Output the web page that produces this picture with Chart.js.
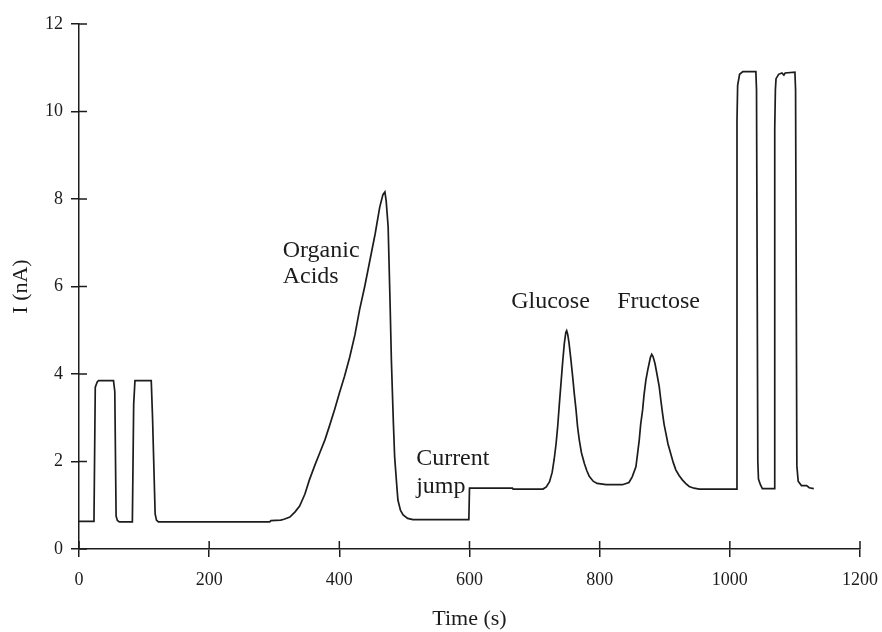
<!DOCTYPE html>
<html>
<head>
<meta charset="utf-8">
<script src="https://cdn.jsdelivr.net/npm/chart.js@4"></script>
<style>
  html, body { margin: 0; padding: 0; background: #fff; }
  #grafico { display: block; }
</style>
</head>
<body>
<canvas id="grafico" width="882" height="632"></canvas>
<script>
// tiempo (s) y corriente (nA)
const tiempo = [
  0, 23, 25, 28, 30, 53, 55, 57, 59, 62,
  82, 84, 86, 111, 113, 117, 119, 122, 293, 295,
  310, 315, 324, 332, 339, 347, 354, 362, 370, 378,
  385, 393, 400, 408, 416, 424, 431, 439, 447, 455,
  462, 467, 470, 472, 475, 478, 480, 483, 485, 488,
  490, 494, 498, 505, 513, 599, 600, 666, 667, 713,
  718, 723, 727, 730, 733, 735.5, 738, 740.6, 743, 745.7,
  748, 749.3, 751, 753, 756, 758.5, 761, 763.7, 766, 768.7,
  772, 776.4, 780, 784, 790, 796, 810, 835, 845, 850,
  855.7, 858, 860.8, 863, 866, 868, 871, 874, 876, 878,
  880, 882, 885, 888, 891.5, 894, 896.6, 899, 901.7, 905,
  909, 913, 917, 922, 927, 932, 937.5, 945, 953, 1009,
  1010, 1011, 1012, 1015, 1020, 1040, 1041, 1043, 1044, 1047,
  1050, 1068, 1069, 1070, 1071, 1075, 1080, 1083, 1085, 1100,
  1101, 1103, 1105, 1110, 1118, 1122, 1129
];
const corriente = [
  0.63, 0.63, 3.7, 3.82, 3.85, 3.85, 3.6, 0.75, 0.65, 0.62,
  0.62, 3.3, 3.85, 3.85, 3.0, 0.8, 0.66, 0.62, 0.62, 0.65,
  0.66, 0.68, 0.73, 0.85, 0.98, 1.25, 1.58, 1.9, 2.2, 2.5,
  2.82, 3.2, 3.56, 3.95, 4.39, 4.9, 5.46, 6.0, 6.6, 7.2,
  7.81, 8.1, 8.16, 7.95, 7.36, 5.6, 4.3, 2.9, 2.1, 1.5,
  1.12, 0.88, 0.78, 0.7, 0.67, 0.67, 1.39, 1.39, 1.37, 1.37,
  1.42, 1.54, 1.75, 2.04, 2.4, 2.8, 3.3, 3.79, 4.25, 4.7,
  4.95, 4.99, 4.9, 4.7, 4.3, 3.94, 3.55, 3.18, 2.8, 2.49,
  2.2, 1.96, 1.8, 1.66, 1.55, 1.5, 1.47, 1.47, 1.52, 1.65,
  1.88, 2.15, 2.49, 2.85, 3.18, 3.5, 3.86, 4.1, 4.24, 4.38,
  4.45, 4.4, 4.24, 4.0, 3.71, 3.4, 3.1, 2.85, 2.65, 2.4,
  2.19, 1.98, 1.81, 1.68, 1.58, 1.5, 1.43, 1.39, 1.37, 1.37,
  1.37, 9.8, 10.6, 10.85, 10.91, 10.91, 10.5, 2.0, 1.6, 1.47,
  1.38, 1.38, 9.6, 10.5, 10.75, 10.85, 10.88, 10.83, 10.88, 10.9,
  10.5, 1.9, 1.55, 1.45, 1.45, 1.4, 1.38
];

const ticksTiempo = [0, 200, 400, 600, 800, 1000, 1200];
const ticksCorriente = [0, 2, 4, 6, 8, 10, 12];

// anotaciones del grafico
const notas = ['Organic', 'Acids', 'Current', 'jump', 'Glucose', 'Fructose'];
const notaTiempo = [313, 313, 518, 518, 664, 827];
const notaCorriente = [6.67, 6.07, 1.92, 1.28, 5.52, 5.52];

const fuente = "'Liberation Serif', 'DejaVu Serif', serif";
const tinta = '#1c1c1c';

const puntos = tiempo.map((t, i) => ({ x: t, y: corriente[i] }));

// marcas que cruzan el eje hacia adentro y textos
const marcasYTextos = {
  id: 'marcasYTextos',
  afterDatasetsDraw(chart) {
    const ctx = chart.ctx;
    const x = chart.scales.x;
    const y = chart.scales.y;
    ctx.save();
    ctx.strokeStyle = tinta;
    ctx.lineWidth = 1.5;
    ctx.beginPath();
    ticksTiempo.forEach(v => {
      const px = x.getPixelForValue(v);
      ctx.moveTo(px, y.bottom);
      ctx.lineTo(px, y.bottom - 8);
    });
    ticksCorriente.forEach(v => {
      const py = y.getPixelForValue(v);
      ctx.moveTo(x.left, py);
      ctx.lineTo(x.left + 8, py);
    });
    ctx.stroke();

    ctx.fillStyle = tinta;
    ctx.font = '24px ' + fuente;
    ctx.textAlign = 'left';
    ctx.textBaseline = 'alphabetic';
    notas.forEach((txt, i) => {
      ctx.fillText(txt, x.getPixelForValue(notaTiempo[i]), y.getPixelForValue(notaCorriente[i]));
    });
    ctx.restore();
  }
};

new Chart(document.getElementById('grafico'), {
  type: 'line',
  data: {
    datasets: [{
      data: puntos,
      borderColor: tinta,
      borderWidth: 1.7,
      pointRadius: 0,
      tension: 0,
      fill: false
    }]
  },
  options: {
    responsive: false,
    animation: false,
    devicePixelRatio: 1,
    layout: { padding: { top: 24, right: 22, left: 0, bottom: 0 } },
    plugins: {
      legend: { display: false },
      tooltip: { enabled: false }
    },
    scales: {
      x: {
        type: 'linear',
        min: 0,
        max: 1200,
        afterFit: s => { s.height = 83; s.paddingLeft = 0; s.paddingRight = 0; },
        afterBuildTicks: s => { s.ticks = ticksTiempo.map(v => ({ value: v })); },
        ticks: { color: tinta, font: { family: fuente, size: 18 }, padding: 12, maxRotation: 0, callback: v => String(v) },
        grid: { drawOnChartArea: false, tickLength: 8, color: tinta, lineWidth: 1.5 },
        border: { color: tinta, width: 1.5 },
        title: { display: true, text: 'Time (s)', color: tinta, font: { family: fuente, size: 22 }, padding: { top: 0, bottom: 0 } }
      },
      y: {
        min: 0,
        max: 12,
        afterFit: s => { s.width = 79; s.paddingTop = 0; s.paddingBottom = 0; },
        afterBuildTicks: s => { s.ticks = ticksCorriente.map(v => ({ value: v })); },
        ticks: { color: tinta, font: { family: fuente, size: 18 }, padding: 8, callback: v => String(v) },
        grid: { drawOnChartArea: false, tickLength: 8, color: tinta, lineWidth: 1.5 },
        border: { color: tinta, width: 1.5 },
        title: { display: true, text: 'I (nA)', color: tinta, font: { family: fuente, size: 22 }, padding: { top: 8, bottom: 0 } }
      }
    }
  },
  plugins: [marcasYTextos]
});
</script>
</body>
</html>
